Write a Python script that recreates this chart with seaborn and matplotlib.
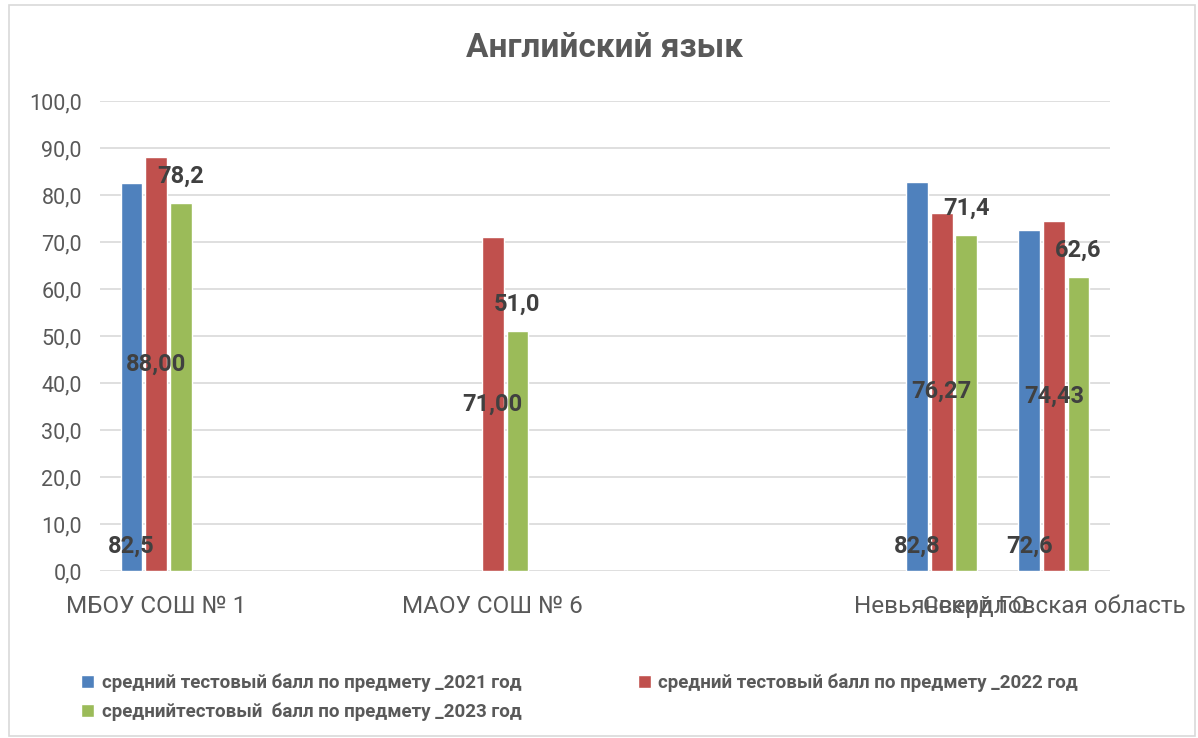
import numpy as np
import pandas as pd
import matplotlib
matplotlib.use("Agg")
import matplotlib.pyplot as plt
from matplotlib.patches import Rectangle, Patch
import seaborn as sns

# ---- data ----
categories = ["МБОУ СОШ № 1", "МАОУ СОШ № 6", "Невьянский ГО", "Свердловская область"]
series_names = [
    "средний тестовый балл по предмету _2021 год",
    "средний тестовый балл по предмету _2022 год",
    "среднийтестовый  балл по предмету _2023 год",
]
values_2021 = [82.5, np.nan, 82.8, 72.6]
values_2022 = [88.0, 71.0, 76.27, 74.43]
values_2023 = [78.2, 51.0, 71.4, 62.6]
label_fmt = ["{:.1f}", "{:.2f}", "{:.1f}"]
yticks = [0, 10, 20, 30, 40, 50, 60, 70, 80, 90, 100]

# ---- layout: category slots on the axis (blank slots between groups) ----
slot_order = [categories[0], " ", "  ", categories[1], "   ", "    ", "     ",
              categories[2], categories[3]]

colors = ["#4F81BD", "#C0504D", "#9BBB59"]

rows = []
for s, vals in zip(series_names, [values_2021, values_2022, values_2023]):
    for c, v in zip(categories, vals):
        rows.append({"cat": c, "series": s, "value": v})
df = pd.DataFrame(rows).dropna()

sns.set_theme(style="white")
plt.rcParams["font.family"] = ["Roboto", "DejaVu Sans"]

fig = plt.figure(figsize=(11.98, 7.38), dpi=100)
ax = fig.add_axes([100 / 1198, 1 - 571 / 738, 1010 / 1198, 470 / 738])

sns.barplot(data=df, x="cat", y="value", hue="series", order=slot_order,
            hue_order=series_names, palette=colors, width=0.66, gap=0.12,
            saturation=1, ax=ax, legend=False, zorder=2, errorbar=None)

ax.set_ylim(0, 100)
ax.set_xlim(-0.5, len(slot_order) - 0.5)
ax.set_yticks(yticks)
ax.set_yticklabels([f"{t:.1f}".replace(".", ",") for t in yticks],
                   fontsize=15.5, color="#595959")
ax.yaxis.grid(True, color="#D9D9D9", linewidth=1.2, zorder=0)
ax.set_axisbelow(True)
for sp in ax.spines.values():
    sp.set_visible(False)
ax.tick_params(axis="y", length=0, pad=13)
ax.set_xticks(range(len(slot_order)))
ax.set_xticklabels([s if s.strip() else "" for s in slot_order],
                   fontsize=17.5, color="#595959")
ax.tick_params(axis="x", length=0, pad=17)
ax.set_xlabel("")
ax.set_ylabel("")

# ---- data labels ----
lab_kw = dict(ha="center", va="center", fontsize=17, fontweight="bold",
              color="#404040", zorder=5)
for i, cont in enumerate(ax.containers):
    for bar in cont:
        h = bar.get_height()
        if not np.isfinite(h) or h == 0:
            continue
        x = bar.get_x() + bar.get_width() / 2
        txt = label_fmt[i].format(h).replace(".", ",")
        if i == 0:
            y = 5.2
        elif i == 1:
            y = h / 2
        else:
            y = h + 5.7
        ax.text(x, y, txt, **lab_kw)

# ---- title ----
fig.text(0.505, 1 - 48 / 738, "Английский язык", ha="center", va="center",
         fontsize=24, fontweight="bold", color="#595959")

# ---- legend ----
handles = [Patch(facecolor=colors[0]), Patch(facecolor=colors[2]),
           Patch(facecolor=colors[1])]
labels = [series_names[0], series_names[2], series_names[1]]
leg = fig.legend(handles, labels, ncol=2, loc="upper left",
                 bbox_to_anchor=(68 / 1198, 1 - 660 / 738), frameon=False,
                 prop={"weight": "bold", "size": 13.5},
                 handlelength=0.7, handleheight=0.7, handletextpad=0.4,
                 columnspacing=6.2, labelspacing=0.6, borderpad=0.2)
for t in leg.get_texts():
    t.set_color("#595959")

# ---- chart border ----
fig.patches.append(Rectangle((9 / 1198, 2 / 738), 1186 / 1198, 731 / 738,
                             transform=fig.transFigure, fill=False,
                             edgecolor="#D9D9D9", linewidth=1.2))

fig.savefig("out.png", dpi=100, facecolor="white")
